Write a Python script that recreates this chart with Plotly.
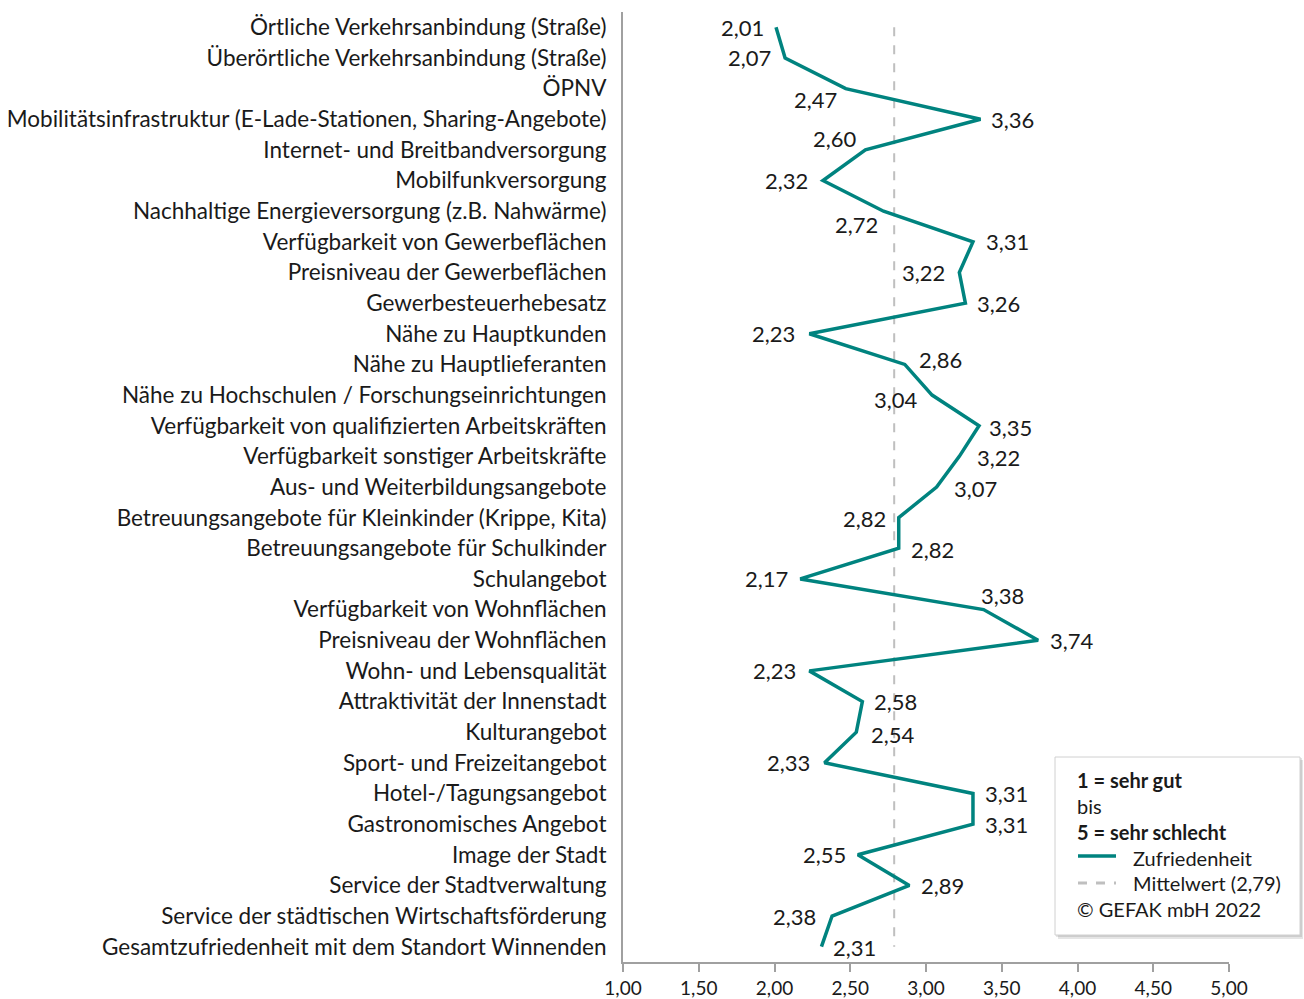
import plotly.graph_objects as go

categories = [
    "Örtliche Verkehrsanbindung (Straße)",
    "Überörtliche Verkehrsanbindung (Straße)",
    "ÖPNV",
    "Mobilitätsinfrastruktur (E-Lade-Stationen, Sharing-Angebote)",
    "Internet- und Breitbandversorgung",
    "Mobilfunkversorgung",
    "Nachhaltige Energieversorgung (z.B. Nahwärme)",
    "Verfügbarkeit von Gewerbeflächen",
    "Preisniveau der Gewerbeflächen",
    "Gewerbesteuerhebesatz",
    "Nähe zu Hauptkunden",
    "Nähe zu Hauptlieferanten",
    "Nähe zu Hochschulen / Forschungseinrichtungen",
    "Verfügbarkeit von qualifizierten Arbeitskräften",
    "Verfügbarkeit sonstiger Arbeitskräfte",
    "Aus- und Weiterbildungsangebote",
    "Betreuungsangebote für Kleinkinder (Krippe, Kita)",
    "Betreuungsangebote für Schulkinder",
    "Schulangebot",
    "Verfügbarkeit von Wohnflächen",
    "Preisniveau der Wohnflächen",
    "Wohn- und Lebensqualität",
    "Attraktivität der Innenstadt",
    "Kulturangebot",
    "Sport- und Freizeitangebot",
    "Hotel-/Tagungsangebot",
    "Gastronomisches Angebot",
    "Image der Stadt",
    "Service der Stadtverwaltung",
    "Service der städtischen Wirtschaftsförderung",
    "Gesamtzufriedenheit mit dem Standort Winnenden",
]
satisfaction = [2.01, 2.07, 2.47, 3.36, 2.60, 2.32, 2.72, 3.31, 3.22, 3.26,
                2.23, 2.86, 3.04, 3.35, 3.22, 3.07, 2.82, 2.82, 2.17, 3.38,
                3.74, 2.23, 2.58, 2.54, 2.33, 3.31, 3.31, 2.55, 2.89, 2.38, 2.31]
mean_value = 2.79
x_ticks = [1.0, 1.5, 2.0, 2.5, 3.0, 3.5, 4.0, 4.5, 5.0]

# label placement (style): (xanchor, xshift, yshift)
label_pos = [
    ("right", -10, 0), ("right", -12, 0), ("right", -7, -11), ("left", 8, 0),
    ("right", -6, 11), ("right", -13, 0), ("right", -4, -13), ("left", 11, 0),
    ("right", -12, 0), ("left", 10, 0), ("right", -12, 0), ("left", 12, 5),
    ("right", -12, -4), ("left", 8, -2), ("left", 16, -1), ("left", 15, -1),
    ("right", -11, -1), ("left", 10, -1), ("right", -10, 0), ("left", -5, 14),
    ("left", 10, 0), ("right", -11, 0), ("left", 10, 0), ("left", 13, -2),
    ("right", -13, 0), ("left", 10, 0), ("left", 10, 0), ("right", -10, 0),
    ("left", 10, 0), ("right", -14, 0), ("left", 10, -1),
]

TEAL = "#00837F"
GRAY_DASH = "#BFBFBF"
FONT = "Lato, Open Sans, sans-serif"

def de(v):
    return f"{v:.2f}".replace(".", ",")

fig = go.Figure()
fig.add_trace(go.Scatter(
    x=[mean_value, mean_value], y=[categories[0], categories[-1]],
    mode="lines", line=dict(color=GRAY_DASH, width=2, dash="dash"),
    name=f"Mittelwert ({de(mean_value)})", hoverinfo="skip", showlegend=False,
))
fig.add_trace(go.Scatter(
    x=satisfaction, y=categories, mode="lines",
    line=dict(color=TEAL, width=3.5), name="Zufriedenheit", showlegend=False,
))

annotations = []
for cat, v, (xa, xs, ys) in zip(categories, satisfaction, label_pos):
    annotations.append(dict(
        x=v, y=cat, xref="x", yref="y", text=de(v), showarrow=False,
        xanchor=xa, yanchor="middle", xshift=xs, yshift=ys,
        font=dict(family=FONT, size=22, color="#1a1a1a"),
    ))

# Plot area in pixels
L, R, T, B = 623, 1229, 12, 962
def px(xp):
    return (xp - L) / (R - L)
def py(yp):
    return (B - yp) / (B - T)

shapes = [
    dict(type="rect", xref="paper", yref="paper",
         x0=px(1058), x1=px(1303), y0=py(760), y1=py(939),
         fillcolor="rgba(0,0,0,0.10)", line=dict(width=0), layer="above"),
    dict(type="rect", xref="paper", yref="paper",
         x0=px(1056), x1=px(1302), y0=py(758), y1=py(937),
         fillcolor="rgba(0,0,0,0.10)", line=dict(width=0), layer="above"),
    dict(type="rect", xref="paper", yref="paper",
         x0=px(1055), x1=px(1300), y0=py(757), y1=py(935),
         fillcolor="white", line=dict(color="#D0D0D0", width=1), layer="above"),
    dict(type="line", xref="paper", yref="paper",
         x0=px(1078), x1=px(1116), y0=py(856), y1=py(856),
         line=dict(color=TEAL, width=3.5), layer="above"),
    dict(type="line", xref="paper", yref="paper",
         x0=px(1078), x1=px(1116), y0=py(883), y1=py(883),
         line=dict(color=GRAY_DASH, width=3, dash="dash"), layer="above"),
]

legend_lines = [
    (1075, 780, "<b>1 = sehr gut</b>"),
    (1075, 806, "bis"),
    (1075, 832, "<b>5 = sehr schlecht</b>"),
    (1131, 858, "Zufriedenheit"),
    (1131, 883, f"Mittelwert ({de(mean_value)})"),
    (1075, 909, "© GEFAK mbH 2022"),
]
for xp, yp, txt in legend_lines:
    annotations.append(dict(
        x=px(xp), y=py(yp), xref="paper", yref="paper", text=txt,
        showarrow=False, xanchor="left", yanchor="middle",
        font=dict(family=FONT, size=20, color="#1a1a1a"),
    ))

fig.update_layout(
    width=1304, height=999,
    margin=dict(l=L, r=1304 - R, t=T, b=999 - B, pad=0, autoexpand=False),
    plot_bgcolor="white", paper_bgcolor="white",
    separators=",.",
    showlegend=False,
    font=dict(family=FONT, size=20, color="#1a1a1a"),
    xaxis=dict(
        range=[1, 5], tickvals=x_ticks, tickformat=".2f",
        showgrid=False, zeroline=False, showline=True,
        linecolor="#A0A0A0", linewidth=2,
        ticks="outside", ticklen=8, tickwidth=2, tickcolor="#A0A0A0",
        tickfont=dict(family=FONT, size=19, color="#1a1a1a"),
    ),
    yaxis=dict(
        type="category", categoryorder="array", categoryarray=categories,
        range=[30.5, -0.5], autorange=False,
        showgrid=False, zeroline=False, showline=True,
        linecolor="#A0A0A0", linewidth=2, ticks="",
        ticklabelstandoff=10,
        tickfont=dict(family=FONT, size=22.5, color="#1a1a1a"),
    ),
    shapes=shapes,
    annotations=annotations,
)

fig.write_html(
    "out.html",
    config={"displayModeBar": False},
    post_script="document.body.style.margin='0';document.body.style.overflow='hidden';",
)
